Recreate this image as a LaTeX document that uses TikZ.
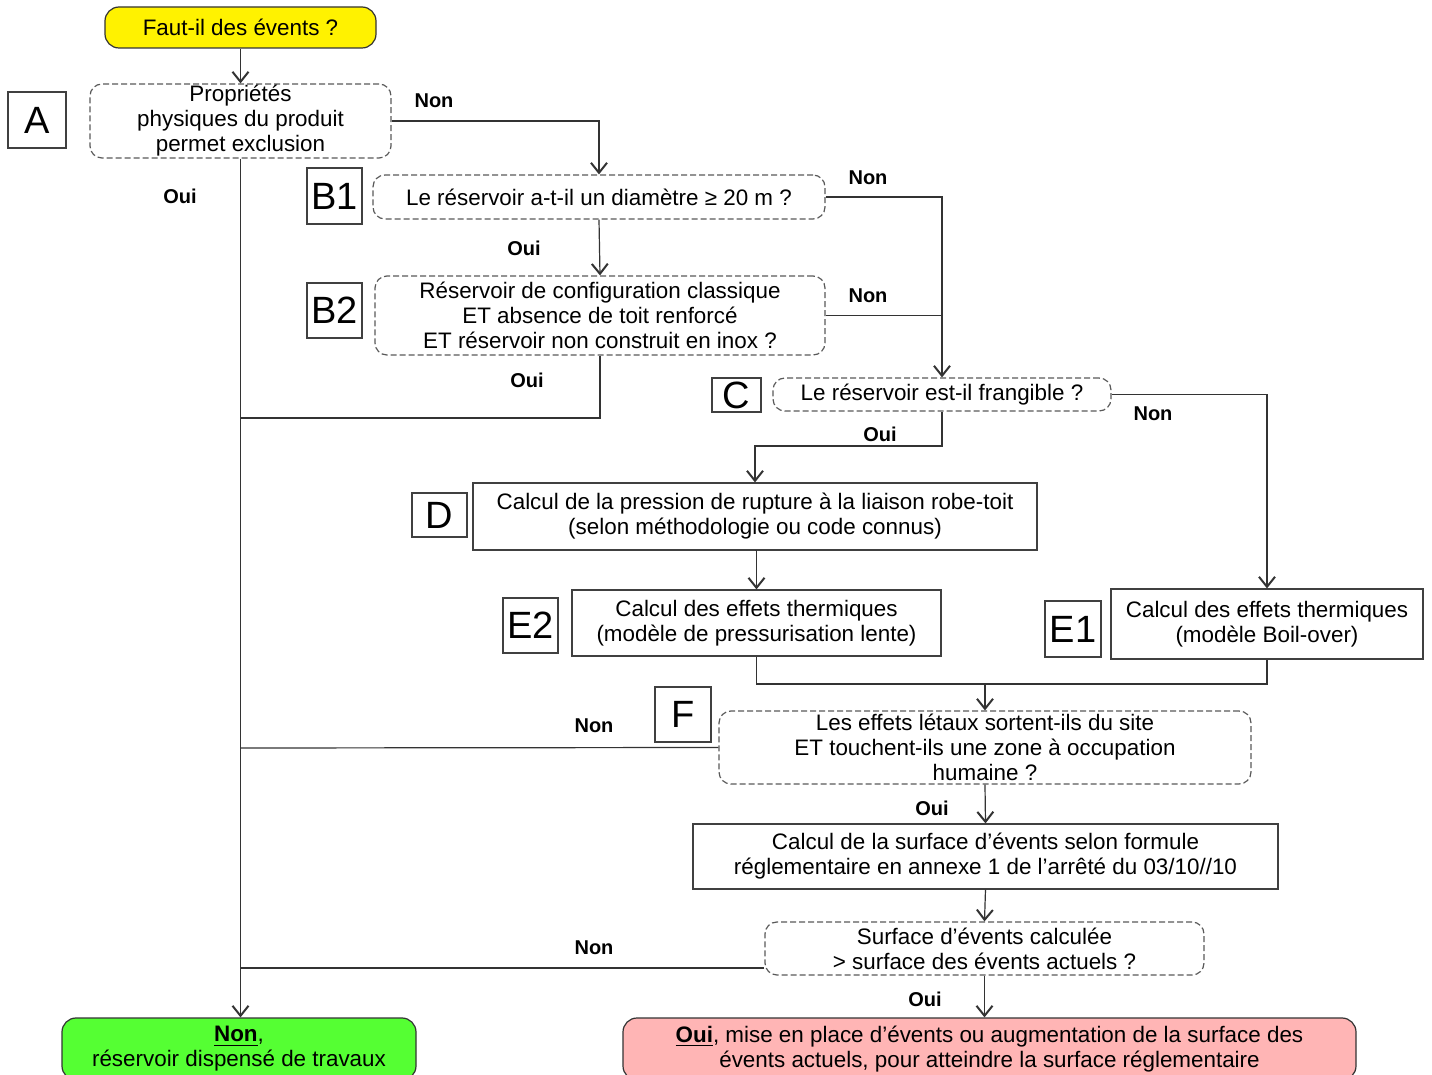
\documentclass[tikz,border=0pt]{standalone}
\usepackage{fontspec}
\setmainfont{Liberation Sans}
\usetikzlibrary{arrows.meta}
\begin{document}
\begin{tikzpicture}[x=0.5pt,y=-0.5pt,
  every node/.style={inner sep=0pt,align=center,font=\fontsize{11.2}{12.5}\selectfont},
  qbox/.style={draw=black!65,dashed,dash pattern=on 3pt off 1.5pt,line width=0.6pt,rounded corners=6pt},
  pbox/.style={draw=black!75,line width=0.6pt},
  lab/.style={draw=black!75,line width=0.6pt,font=\fontsize{19}{20}\selectfont},
  yn/.style={font=\bfseries\fontsize{10}{12}\selectfont},
  conn/.style={draw=black!80,line width=0.6pt},
  arr/.style={conn,-{Straight Barb[length=5pt,width=8pt,line width=1pt]}},
  endbox/.style={draw=black!80,line width=0.6pt,rounded corners=7pt}]
\useasboundingbox (0,0) rectangle (1432,1075);

\node[endbox,fill=yellow,minimum width=135.5pt,minimum height=20.5pt] (top) at (240.5,27.5) {Faut-il des évents ?};
\node[lab,minimum width=29pt,minimum height=28pt] (Al) at (37,120) {A};
\node[qbox,minimum width=150.5pt,minimum height=37pt] (Aq) at (240.5,121) {Propriétés\\physiques du produit\\permet exclusion};
\node[lab,minimum width=27.5pt,minimum height=28pt] (B1l) at (334.5,196) {B1};
\node[qbox,minimum width=226pt,minimum height=22pt] (B1) at (599,197) {Le réservoir a-t-il un diamètre ≥ 20 m ?};
\node[lab,minimum width=27.5pt,minimum height=27.5pt] (B2l) at (334.5,310.5) {B2};
\node[qbox,minimum width=225pt,minimum height=39.5pt] (B2) at (600,315.5) {Réservoir de configuration classique\\ET absence de toit renforcé\\ET réservoir non construit en inox ?};
\node[lab,minimum width=24.5pt,minimum height=17pt] (Cl) at (736.5,395) {C};
\node[qbox,minimum width=169pt,minimum height=16.5pt] (C) at (942,394.5) {Le réservoir est-il frangible ?};
\node[lab,minimum width=27.5pt,minimum height=22pt] (Dl) at (439.5,515) {D};
\node[pbox,minimum width=282pt,minimum height=33.5pt] (D) at (755,516.5) {Calcul de la pression de rupture à la liaison robe-toit\\(selon méthodologie ou code connus)};
\node[lab,minimum width=27.5pt,minimum height=27.5pt] (E2l) at (530.5,625.5) {E2};
\node[pbox,minimum width=184.5pt,minimum height=33pt] (E2) at (756.5,623) {Calcul des effets thermiques\\(modèle de pressurisation lente)};
\node[lab,minimum width=28pt,minimum height=28pt] (E1l) at (1073,629) {E1};
\node[pbox,minimum width=156pt,minimum height=35pt] (E1) at (1267,624) {Calcul des effets thermiques\\(modèle Boil-over)};
\node[lab,minimum width=28pt,minimum height=27.5pt] (Fl) at (683,714.5) {F};
\node[qbox,minimum width=266pt,minimum height=36.5pt] (F) at (985,747.5) {Les effets létaux sortent-ils du site\\ET touchent-ils une zone à occupation\\humaine ?};
\node[pbox,minimum width=292.5pt,minimum height=32.5pt] (Calc) at (985.5,856.5) {Calcul de la surface d’évents selon formule\\réglementaire en annexe 1 de l’arrêté du 03/10//10};
\node[qbox,minimum width=219.5pt,minimum height=26.5pt] (Surf) at (984.5,948.5) {Surface d’évents calculée\\> surface des évents actuels ?};
\node[endbox,fill={rgb,255:red,85;green,255;blue,51},minimum width=177pt,minimum height=31pt] (Green) at (239,1049) {\underline{\textbf{Non}},\\réservoir dispensé de travaux};
\node[endbox,fill={rgb,255:red,255;green,181;blue,181},minimum width=366.5pt,minimum height=31pt] (Pink) at (989.5,1049) {\underline{\textbf{Oui}}, mise en place d’évents ou augmentation de la surface des\\évents actuels, pour atteindre la surface réglementaire};

% labels
\node[yn] (n1) at (434,101) {Non};
\node[yn] (n2) at (868,178) {Non};
\node[yn] (n3) at (868,296) {Non};
\node[yn] (n4) at (1153,414) {Non};
\node[yn] (n5) at (594,726) {Non};
\node[yn] (n6) at (594,948) {Non};
\node[yn] (o1) at (180,196) {Oui};
\node[yn] (o2) at (524,248) {Oui};
\node[yn] (o3) at (527,380) {Oui};
\node[yn] (o4) at (880,434) {Oui};
\node[yn] (o5) at (932,808) {Oui};
\node[yn] (o6) at (925,999) {Oui};

% junctions
\coordinate (j1) at (240.5,418);
\coordinate (j2) at (240.5,748);
\coordinate (j3) at (240.5,968);
\coordinate (cd) at (942,446);
\coordinate (m) at (985,684);

% connectors
\draw[arr] (top) -- (Aq);
\draw[arr] (Aq.east) -| (B1.north);
\draw[arr] (Aq.south) -- (Aq.south |- Green.north);
\draw[arr] (B1.east) -| (C.north);
\draw[arr] (B1.south) -- (B2.north);
\draw[conn] (B2.east) -- (B2.east -| C.north);
\draw[conn] (B2.south) |- (j1);
\draw[arr] (C.south) -- (cd) -| (D.north);
\draw[arr] (C.east) -| (E1.north);
\draw[arr] (D.south) -- (D.south -| E2.north) -- (E2.north);
\draw[conn] (E2.south) |- (m) -| (E1.south);
\draw[arr] (m) -- (F.north);
\draw[conn] (F.west) -- (j2);
\draw[arr] (F.south) -- (Calc.north);
\draw[arr] (Calc.south) -- (Surf.north);
\draw[conn] (Surf.west |- j3) -- (j3);
\draw[arr] (Surf.south) -- (Surf.south |- Pink.north);
\end{tikzpicture}
\end{document}
